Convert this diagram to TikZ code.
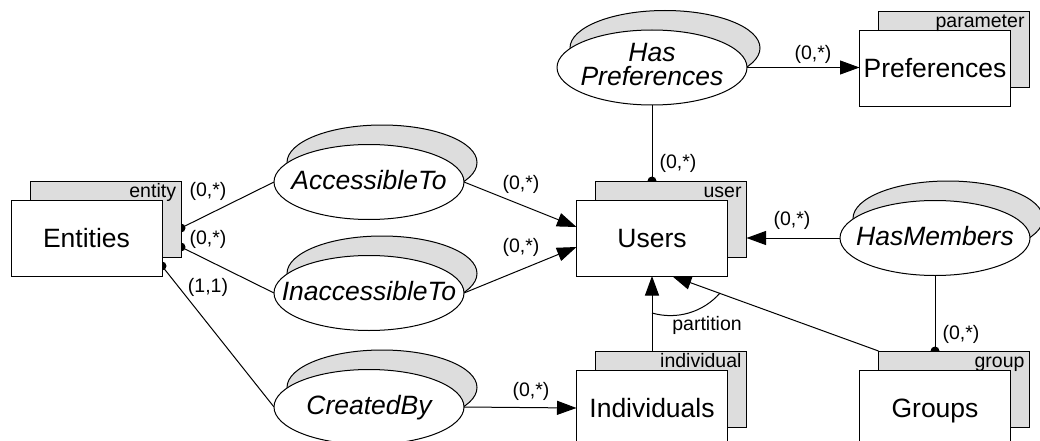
\documentclass[tikz,border=0pt]{standalone}
\usepackage{fontspec}
\setmainfont{Liberation Sans}
\usetikzlibrary{arrows.meta,backgrounds,shapes.geometric,calc}
\definecolor{shade}{RGB}{221,221,221}

\begin{document}
\begin{tikzpicture}[x=1pt, y=-1pt,
  every node/.style={inner sep=0pt, outer sep=0pt},
  bigtxt/.style={font=\fontsize{26.5}{24}\selectfont},
  smalltxt/.style={font=\fontsize{19.5}{21}\selectfont},
  entback/.style={draw, line width=1pt, fill=shade, minimum width=151pt, minimum height=76pt},
  entfront/.style={draw, line width=1pt, fill=white, minimum width=151pt, minimum height=76pt,
                   bigtxt, text height=19pt, text depth=0pt},
  relback/.style={ellipse, draw, line width=1pt, fill=shade, minimum width=190pt, minimum height=75pt},
  relfront/.style={ellipse, draw, line width=1pt, fill=white, minimum width=190pt, minimum height=75pt},
  reltxt/.style={font=\fontsize{26.5}{24}\selectfont\itshape, text height=19pt, text depth=0pt},
  reltxttwo/.style={font=\fontsize{26.5}{24}\selectfont\itshape, align=center},
  tag/.style={smalltxt, anchor=base east},
  card/.style={smalltxt},
  conn/.style={draw, line width=1pt},
  arr/.style={conn, -{Triangle[length=19.5pt, width=14pt]}},
  dotr/.style={radius=4.5pt}
]
\path[use as bounding box] (0,0) rectangle (1040,441);
\clip (0,0) rectangle (1040,441);

% ---------- entity types (shadowed boxes) ----------
\node[entback]  (ent-b)   at (105.5,219) {};
\node[entfront] (ent)     at (86.5,238)  {Entities};
\node[tag] (ent-tag) at ([xshift=-5pt, yshift=-16.5pt]ent-b.north east) {entity};

\node[entback]  (users-b) at (671,219)   {};
\node[entfront] (users)   at (652,238)   {Users};
\node[tag] (users-tag) at ([xshift=-5pt, yshift=-16.5pt]users-b.north east) {user};

\node[entback]  (pref-b)  at (954,49.5)  {};
\node[entfront] (pref)    at (935,68.5)  {Preferences};
\node[tag] (pref-tag) at ([xshift=-5pt, yshift=-16.5pt]pref-b.north east) {parameter};

\node[entback]  (ind-b)   at (671,389)   {};
\node[entfront] (ind)     at (652,408)   {Individuals};
\node[tag] (ind-tag) at ([xshift=-5pt, yshift=-16.5pt]ind-b.north east) {individual};

\node[entback]  (grp-b)   at (954,389)   {};
\node[entfront] (grp)     at (935,408)   {Groups};
\node[tag] (grp-tag) at ([xshift=-5pt, yshift=-16.5pt]grp-b.north east) {group};

% ---------- relationships (shadowed ellipses) ----------
\node[relback]  (acc-b)  at (382,162.5) {};
\node[relfront] (acc)    at (369,182)   {};
\node[reltxt]   (acc-t)  at ($(acc.center)+(0,-2)$) {AccessibleTo};

\node[relback]  (inacc-b) at (382,273.5) {};
\node[relfront] (inacc)   at (369,293)   {};
\node[reltxt]   (inacc-t) at ($(inacc.center)+(0,-2)$) {InaccessibleTo};

\node[relback]  (cb-b)   at (382,387.5) {};
\node[relfront] (cb)     at (369,407)   {};
\node[reltxt]   (cb-t)   at ($(cb.center)+(0,-2)$) {CreatedBy};

\node[relback]  (hp-b)   at (665,48)    {};
\node[relfront] (hp)     at (652,67.5)  {};
\node[reltxttwo] (hp-t)  at ($(hp.center)+(0,-3)$) {Has\\Preferences};

\node[relback]  (hm-b)   at (948,218.5) {};
\node[relfront] (hm)     at (935,238)   {};
\node[reltxt]   (hm-t)   at ($(hm.center)+(0,-2)$) {HasMembers};

% ---------- attachment points ----------
\coordinate (ent-p1) at ($(ent-b.east |- ent.center)+(0,-10)$);
\coordinate (ent-p2) at ($(ent-b.east |- ent.center)+(0,9)$);
\coordinate (ent-p3) at ($(ent.east)+(0,28)$);
\coordinate (users-in1) at ($(users.west)+(0,-11)$);
\coordinate (users-in2) at ($(users.west)+(0,9)$);
\coordinate (users-top) at (hp.south |- users-b.north);
\coordinate (grp-top)   at (hm.south |- grp-b.north);
\coordinate (users-bot) at ($(users.south)+(20,0)$);
\coordinate (part-a) at (652,313);
\coordinate (part-b) at (720,293);

% ---------- connectors ----------
\begin{scope}[on background layer]
  \fill[white] (0,0) rectangle (1040,441);

  \path[conn] (ent-p1) -- (acc.west);
  \path[conn] (ent-p2) -- (inacc.west);
  \path[conn] (ent-p3) -- (cb.west);
  \fill (ent-p1) circle[dotr];
  \fill (ent-p2) circle[dotr];
  \fill (ent-p3) circle[dotr];

  \path[arr] (acc.east) -- (users-in1);
  \path[arr] (inacc.east) -- (users-in2);
  \path[arr] (cb.east) -- (ind.west);

  \path[arr] (hp.east) -- (hp.east -| pref.west);
  \path[conn] (hp.south) -- (users-top);
  \fill (users-top) circle[dotr];

  \path[arr] (hm.west) -- (hm.west -| users-b.east);
  \path[conn] (hm.south) -- (grp-top);
  \fill (grp-top) circle[dotr];

  \path[arr] (ind.center |- ind-b.north) -- (users.south);
  \path[arr] (grp-b.north west) -- (users-bot);
  \path[conn] (part-a) .. controls (676.7,320.1) and (703.1,312.4) .. (part-b);
\end{scope}

% ---------- cardinalities ----------
\node[card] (c-ent-acc)   at (208,191) {(0,*)};
\node[card] (c-ent-inacc) at (208,239) {(0,*)};
\node[card] (c-ent-cb)    at (208,287) {(1,1)};
\node[card] (c-acc-users) at (521,184) {(0,*)};
\node[card] (c-inacc-users) at (521,247) {(0,*)};
\node[card] (c-hp-pref)   at (813,54)  {(0,*)};
\node[card] (c-hp-users)  at (678,163) {(0,*)};
\node[card] (c-hm-users)  at (792,220) {(0,*)};
\node[card] (c-hm-grp)    at (961,334) {(0,*)};
\node[card] (c-cb-ind)    at (531,391) {(0,*)};
\node[card] (part-lbl)    at (707,325) {partition};
\end{tikzpicture}
\end{document}
